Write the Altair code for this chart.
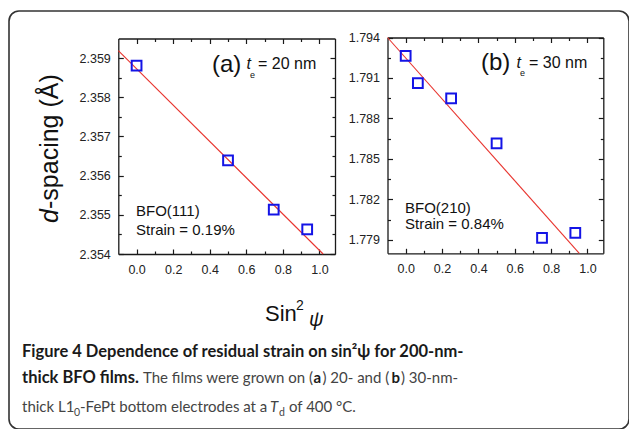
import altair as alt
import pandas as pd

# ---------------- data ----------------
a_sin2psi = [0.0, 0.5, 0.75, 0.933]
a_d = [2.35881, 2.35639, 2.35513, 2.35463]
a_fit_x = [-0.1, 1.02]
a_fit_y = [2.35919, 2.354]

b_sin2psi = [0.0, 0.067, 0.25, 0.5, 0.75, 0.933]
b_d = [1.79264, 1.79062, 1.78948, 1.78615, 1.77914, 1.77951]
b_fit_x = [-0.1, 0.955]
b_fit_y = [1.794, 1.778]

x_major = [0.0, 0.2, 0.4, 0.6, 0.8, 1.0]
x_minor = [0.1, 0.3, 0.5, 0.7, 0.9]
a_y_major = [2.354, 2.355, 2.356, 2.357, 2.358, 2.359]
a_y_minor = [2.3545, 2.3555, 2.3565, 2.3575, 2.3585]
b_y_major = [1.779, 1.782, 1.785, 1.788, 1.791, 1.794]
b_y_minor = [1.7805, 1.7835, 1.7865, 1.7895, 1.7925]

# ---------------- layout ----------------
PAD_L, PAD_T = 9, 11
W, H = 620, 418
FONT = "Liberation Sans"
CAP_FONT = "Lato"
AX_COLOR = "#1a1a1a"

panels = [
    dict(x=a_sin2psi, y=a_d, fx=a_fit_x, fy=a_fit_y,
         xdom=[-0.1, 1.085], ydom=[2.354, 2.3595],
         xr=[109.3, 326.0], yr=[243.0, 27.5],
         ymaj=a_y_major, ymin=a_y_minor, yfmt=".3f"),
    dict(x=b_sin2psi, y=b_d, fx=b_fit_x, fy=b_fit_y,
         xdom=[-0.1, 1.087], ydom=[1.778, 1.794],
         xr=[378.5, 594.3], yr=[242.3, 26.5],
         ymaj=b_y_major, ymin=b_y_minor, yfmt=".3f"),
]


def axis(orient, offset, values, tick=0, labels=False, domain=False, fmt=".1f", pad=0):
    kw = dict(orient=orient, offset=offset, values=values, title=None, grid=False,
              domain=domain, domainColor=AX_COLOR, domainWidth=1.3,
              labels=labels, ticks=tick > 0, tickSize=tick, tickColor=AX_COLOR,
              tickWidth=1.2)
    if labels:
        kw.update(format=fmt, labelFont=FONT, labelFontSize=12.5, labelColor="#222",
                  labelPadding=pad, labelFlush=False, labelOverlap=False, labelAngle=0)
    return alt.Axis(**kw)


layers = []
for p in panels:
    xl, xr = p["xr"]
    yb, yt = p["yr"]
    xs = alt.Scale(domain=p["xdom"], range=p["xr"], nice=False, zero=False)
    ys = alt.Scale(domain=p["ydom"], range=p["yr"], nice=False, zero=False)
    pts = pd.DataFrame({"s": p["x"], "d": p["y"]})
    fit = pd.DataFrame({"s": p["fx"], "d": p["fy"]})

    axes = [
        (axis("bottom", yb - H, x_major, labels=True, pad=9),
         axis("left", -xl, p["ymaj"], labels=True, fmt=p["yfmt"], pad=8)),
        (axis("top", -yb, x_major, tick=5, domain=True),
         axis("right", xl - W, p["ymaj"], tick=5, domain=True)),
        (axis("top", -yb, x_minor, tick=3),
         axis("right", xl - W, p["ymin"], tick=3)),
        (axis("bottom", yt - H, x_major, tick=5, domain=True),
         axis("left", -xr, p["ymaj"], tick=5, domain=True)),
        (axis("bottom", yt - H, x_minor, tick=3),
         axis("left", -xr, p["ymin"], tick=3)),
    ]
    for i, (axx, axy) in enumerate(axes):
        enc = dict(x=alt.X("s:Q", scale=xs, axis=axx), y=alt.Y("d:Q", scale=ys, axis=axy))
        if i == 0:
            layers.append(alt.Chart(fit).mark_line(color="#e8352f", strokeWidth=1.1).encode(**enc))
        elif i == 1:
            layers.append(alt.Chart(pts).mark_point(shape="square", filled=False, color="#1414e6",
                                                    strokeWidth=2, size=95, opacity=1).encode(**enc))
        else:
            layers.append(alt.Chart(pts).mark_point(opacity=0).encode(**enc))

one = alt.Data(values=[{"k": 0}])


def txt(s, x, y, size, weight="normal", style="normal", font=FONT, color="#111",
        align="left", baseline="middle", angle=0):
    kw = dict(fontSize=size, fontWeight=weight, fontStyle=style, font=font, color=color,
              align=align, baseline=baseline)
    if angle:
        kw["angle"] = angle
    return alt.Chart(one).mark_text(**kw).encode(
        x=alt.value(x - PAD_L), y=alt.value(y - PAD_T), text=alt.value(s))


annots = [
    # panel (a)
    txt("(a)", 212, 65, 24),
    txt("t", 246.5, 64, 16, style="italic"),
    txt("e", 250, 74.5, 9),
    txt("= 20 nm", 258, 64, 16),
    txt("BFO(111)", 136, 211, 15),
    txt("Strain = 0.19%", 136, 230, 15),
    # panel (b)
    txt("(b)", 481, 63, 24),
    txt("t", 516.5, 63, 16, style="italic"),
    txt("e", 520, 72.5, 9),
    txt("= 30 nm", 529, 63, 16),
    txt("BFO(210)", 405, 208, 15),
    txt("Strain = 0.84%", 405, 224, 15),
    # axis titles
    txt("d", 50, 223, 25, style="italic", angle=270),
    txt("-spacing (Å)", 50, 209, 25, angle=270),
    txt("Sin", 265, 321, 22, baseline="alphabetic"),
    txt("2", 296, 310, 14, baseline="alphabetic"),
    txt("ψ", 309, 326, 20, style="italic", baseline="alphabetic"),
]

BOLD_C = "#1a1a1a"
REG_C = "#444444"
BS, RS = 16.5, 15.0
caption = [
    txt("Figure 4 Dependence of residual strain on sin²ψ for 200-nm-", 22, 357, BS,
        weight="bold", font=CAP_FONT, color=BOLD_C, baseline="alphabetic"),
    txt("thick BFO films.", 22, 383, BS, weight="bold", font=CAP_FONT, color=BOLD_C,
        baseline="alphabetic"),
    txt("The films were grown on (", 143, 383, RS, font=CAP_FONT, color=REG_C,
        baseline="alphabetic"),
    txt("a", 313.5, 383, RS, weight="bold", font=CAP_FONT, color=BOLD_C, baseline="alphabetic"),
    txt(") 20- and (", 322.5, 383, RS, font=CAP_FONT, color=REG_C, baseline="alphabetic"),
    txt("b", 391.5, 383, RS, weight="bold", font=CAP_FONT, color=BOLD_C, baseline="alphabetic"),
    txt(") 30-nm-", 401, 383, RS, font=CAP_FONT, color=REG_C, baseline="alphabetic"),
    txt("thick L1", 22, 412, RS, font=CAP_FONT, color=REG_C, baseline="alphabetic"),
    txt("0", 74, 416, 10.5, font=CAP_FONT, color=REG_C, baseline="alphabetic"),
    txt("-FePt bottom electrodes at a", 80, 412, RS, font=CAP_FONT, color=REG_C,
        baseline="alphabetic"),
    txt("T", 270, 412, RS, style="italic", font=CAP_FONT, color=REG_C, baseline="alphabetic"),
    txt("d", 279, 416, 10.5, font=CAP_FONT, color=REG_C, baseline="alphabetic"),
    txt("of 400 °C.", 289, 412, RS, font=CAP_FONT, color=REG_C, baseline="alphabetic"),
]

chart = alt.layer(*layers, *annots, *caption).resolve_scale(
    x="independent", y="independent"
).properties(
    width=W, height=H,
    padding={"left": PAD_L, "top": PAD_T, "right": 0, "bottom": 0},
    autosize=alt.AutoSizeParams(type="none"),
    background="white",
).configure_view(
    stroke="#333333", strokeWidth=1.6, cornerRadius=10,
)

chart.save("out.html", embed_options={"renderer": "svg", "actions": False})
